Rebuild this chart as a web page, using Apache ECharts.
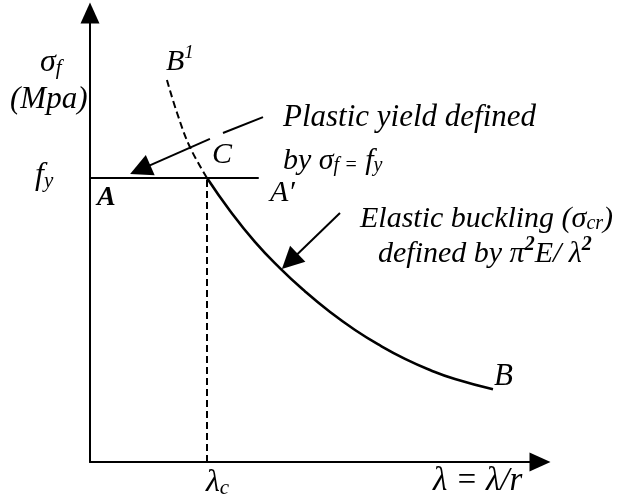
<!DOCTYPE html>
<html>
<head>
<meta charset="utf-8">
<script src="https://cdn.jsdelivr.net/npm/echarts@6/dist/echarts.min.js"></script>
<style>
  html, body { margin: 0; padding: 0; background: #fff; }
  #chart { width: 631px; height: 503px; }
</style>
</head>
<body>
<div id="chart"></div>
<script>
// Column strength curve: yield plateau A–A' and Euler buckling curve C–B
const lambdaElastic = [52.0, 62.2, 73.3, 84.4, 95.6, 106.7, 117.8, 128.9, 140.0, 151.1, 162.2, 179.1];
const sigmaElastic  = [253.0, 223.9, 196.1, 172.7, 151.9, 133.6, 117.6, 103.8, 91.9, 82.0, 73.9, 64.8];
// Euler curve continued above the yield stress (B¹–C), not governing
const lambdaUpper = [34.2, 38.7, 44.4, 52.0];
const sigmaUpper  = [340.3, 310.9, 280.6, 253.0];
// Yield stress and critical slenderness
const fy = 253;
const lambdaC = 52;
const plateauEnd = 75;
// Pointer arrows for the two annotations (start, break, resume, head)
const plasticPointer = [[76.9, 307.3], [59.1, 293.1], [53.3, 287.8], [22.3, 260.5]];
const elasticPointer = [[111.1, 221.8], [88.8, 178.7]];

const pair = (xs, ys) => xs.map((x, i) => [x, ys[i]]);

const SERIF = '"Liberation Serif", "Times New Roman", serif';
const base = { fontFamily: SERIF, fontStyle: 'italic', fontSize: 30, lineHeight: 34, fill: '#000', verticalAlign: 'bottom' };
const sub = { fontFamily: SERIF, fontStyle: 'italic', fontSize: 20, lineHeight: 18, fill: '#000', verticalAlign: 'bottom' };
const sup = { fontFamily: SERIF, fontStyle: 'italic', fontWeight: 'bold', fontSize: 20, lineHeight: 22, fill: '#000', verticalAlign: 'top' };
const supLight = Object.assign({}, sup, { fontWeight: 'normal', fontSize: 19 });

function label(x, y, text, extra) {
  return {
    type: 'text', x: x, y: y, silent: true,
    style: Object.assign({
      text: text,
      fontFamily: SERIF, fontStyle: 'italic', fontSize: 30, lineHeight: 34,
      fill: '#000',
      rich: {
        i: base, s: sub, p: sup, q: supLight,
        b: Object.assign({}, base, { fontWeight: 'bold', fontSize: 28 }),
        big: Object.assign({}, base, { fontSize: 32 }),
        bs: Object.assign({}, sub, { fontSize: 21 })
      }
    }, extra || {})
  };
}

const chart = echarts.init(document.getElementById('chart'), null, { renderer: 'canvas' });

const axisCommon = {
  type: 'value',
  axisLine: {
    show: true,
    symbol: ['none', 'triangle'],
    symbolSize: [19, 21],
    lineStyle: { color: '#000', width: 2 }
  },
  axisTick: { show: false },
  axisLabel: { show: false },
  splitLine: { show: false }
};

const lineBase = { type: 'line', showSymbol: false, symbol: 'none', silent: true, animation: false };

chart.setOption({
  animation: false,
  backgroundColor: '#fff',
  grid: { left: 90, right: 91, top: 13, bottom: 41 },
  xAxis: Object.assign({}, axisCommon, { min: 0, max: 200 }),
  yAxis: Object.assign({}, axisCommon, { min: 0, max: 400 }),
  series: [
    Object.assign({}, lineBase, {
      name: 'elastic',
      data: pair(lambdaElastic, sigmaElastic),
      smooth: 0.5,
      lineStyle: { color: '#000', width: 2.6 }
    }),
    Object.assign({}, lineBase, {
      name: 'upper',
      data: pair(lambdaUpper, sigmaUpper),
      smooth: 0.4,
      lineStyle: { color: '#000', width: 2, type: [7, 4] }
    }),
    Object.assign({}, lineBase, {
      name: 'yield',
      data: [[0, fy], [plateauEnd, fy]],
      lineStyle: { color: '#000', width: 2 }
    }),
    Object.assign({}, lineBase, {
      name: 'lambdaC',
      data: [[lambdaC, 0], [lambdaC, fy]],
      lineStyle: { color: '#000', width: 2, type: [7, 4] }
    }),
    {
      type: 'lines',
      coordinateSystem: 'cartesian2d',
      silent: true,
      animation: false,
      lineStyle: { color: '#000', width: 2, opacity: 1 },
      data: [
        { coords: [plasticPointer[0], plasticPointer[1]], symbol: ['none', 'none'] },
        { coords: [plasticPointer[2], plasticPointer[3]], symbol: ['none', 'triangle'], symbolSize: [16, 22] },
        { coords: [elasticPointer[0], elasticPointer[1]], symbol: ['none', 'triangle'], symbolSize: [16, 22] }
      ],
      symbol: ['none', 'triangle'],
      symbolSize: [16, 22],
      itemStyle: { color: '#000' }
    }
  ],
  graphic: [
    label(40, 45, '{big|σ}{bs|f}'),
    label(10, 83, '(Mpa)', { fontSize: 31 }),
    label(35, 158, '{big|f}{bs|y}'),
    label(97, 178, '{b|A}'),
    label(212, 138, 'C'),
    label(270, 176, 'A′'),
    label(166, 43, '{i|B}{q|1}'),
    label(283, 101, 'Plastic yield defined', { fontSize: 31 }),
    label(283, 142, '{i|by σ}{s|f =} {i|f}{s|y}'),
    label(360, 200, '{i|Elastic buckling (σ}{s|cr}{i|)}'),
    label(378, 235, '{i|defined by π}{p|2}{i|E/ λ}{p|2}'),
    label(494, 360, 'B', { fontSize: 31 }),
    label(206, 465, '{big|λ}{bs|c}'),
    label(433, 464, 'λ = λ/r', { fontSize: 33 })
  ]
});
</script>
</body>
</html>
